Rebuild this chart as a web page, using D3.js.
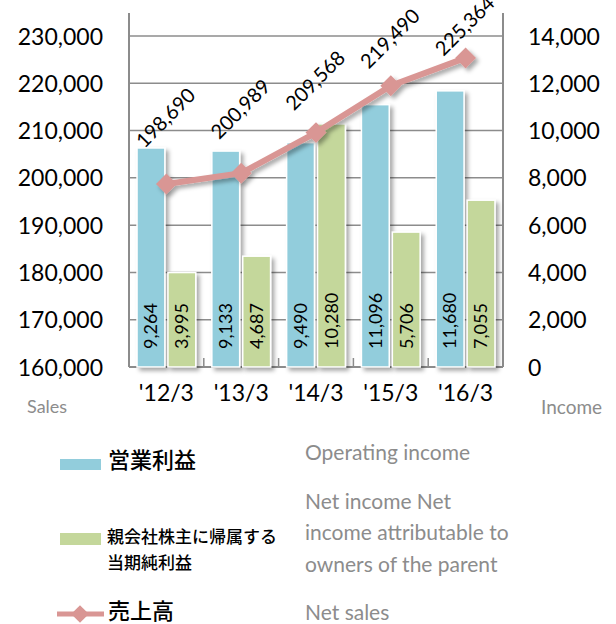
<!DOCTYPE html>
<html><head><meta charset="utf-8">
<script src="https://cdn.jsdelivr.net/npm/d3@7/dist/d3.min.js"></script>
<style>
html,body{margin:0;padding:0;background:#fff;}
svg{display:block;}
</style></head>
<body>
<svg id="c" width="616" height="624"></svg>
<script>
const categories = ["'12/3", "'13/3", "'14/3", "'15/3", "'16/3"];
const operatingIncome = [9264, 9133, 9490, 11096, 11680];
const netIncome = [3995, 4687, 10280, 5706, 7055];
const netSales = [198690, 200989, 209568, 219490, 225364];
const leftTicks = [160000, 170000, 180000, 190000, 200000, 210000, 220000, 230000];
const rightTicks = [0, 2000, 4000, 6000, 8000, 10000, 12000, 14000];
const salesLabelLift = [35, 33, 21, 16, 1];

const svg = d3.select("#c");
const FONT = "Lato, 'Open Sans', sans-serif";
const JFONT = "'Noto Sans CJK JP', sans-serif";
const blue = "#92CDDC", green = "#C4D79B", pink = "#D99694";

const L = 129, R = 503, T = 36, B = 367, TOP = 13;
const yL = d3.scaleLinear().domain([160000, 230000]).range([B, T]);
const yR = d3.scaleLinear().domain([0, 14000]).range([B, T]);
const x = d3.scaleBand().domain(categories).range([L, R]);
const xs = d3.scaleBand().domain(["op", "net"]).range([0, x.bandwidth()]).paddingInner(0.1).paddingOuter(0.26);

const defs = svg.append("defs");
const f = defs.append("filter").attr("id", "sh").attr("x", "-30%").attr("y", "-30%").attr("width", "160%").attr("height", "160%");
f.append("feDropShadow").attr("dx", 3).attr("dy", 3).attr("stdDeviation", 2).attr("flood-color", "#000").attr("flood-opacity", 0.35);

// gridlines
svg.append("g").selectAll("line").data(leftTicks.slice(1)).join("line")
  .attr("x1", L).attr("x2", R).attr("y1", d => yL(d)).attr("y2", d => yL(d))
  .attr("stroke", "#8c8c8c").attr("stroke-width", 1.5);

// axes lines
svg.append("line").attr("x1", L).attr("x2", L).attr("y1", TOP).attr("y2", B).attr("stroke", "#8c8c8c").attr("stroke-width", 2);
svg.append("line").attr("x1", R).attr("x2", R).attr("y1", TOP).attr("y2", B).attr("stroke", "#8c8c8c").attr("stroke-width", 2);
svg.append("line").attr("x1", L).attr("x2", R).attr("y1", B).attr("y2", B).attr("stroke", "#8c8c8c").attr("stroke-width", 2);
svg.append("g").selectAll("line").data(categories.slice(1)).join("line")
  .attr("x1", d => x(d)).attr("x2", d => x(d)).attr("y1", B - 9).attr("y2", B)
  .attr("stroke", "#8c8c8c").attr("stroke-width", 1.5);

// axis tick labels
const gl = svg.append("g").attr("transform", `translate(103,0)`)
  .call(d3.axisLeft(yL).tickValues(leftTicks).tickSize(0).tickPadding(0).tickFormat(d3.format(",")));
gl.select(".domain").remove();
gl.selectAll("text").attr("font-family", FONT).attr("font-size", 23).attr("fill", "#000").attr("dy", "0.35em");

const gr = svg.append("g").attr("transform", `translate(528,0)`)
  .call(d3.axisRight(yR).tickValues(rightTicks).tickSize(0).tickPadding(0).tickFormat(d3.format(",")));
gr.select(".domain").remove();
gr.selectAll("text").attr("font-family", FONT).attr("font-size", 23).attr("fill", "#000").attr("dy", "0.35em");

const gx = svg.append("g").attr("transform", `translate(0,393)`)
  .call(d3.axisBottom(x).tickSize(0).tickPadding(0));
gx.select(".domain").remove();
gx.selectAll("text").attr("font-family", FONT).attr("font-size", 23).attr("fill", "#000").attr("dy", "0.35em");

svg.append("text").attr("x", 27).attr("y", 407).attr("dy", "0.35em").text("Sales")
  .attr("font-family", FONT).attr("font-size", 18).attr("fill", "#8c8c8c");
svg.append("text").attr("x", 541).attr("y", 407).attr("dy", "0.35em").text("Income")
  .attr("font-family", FONT).attr("font-size", 19).attr("fill", "#8c8c8c");

// bars
const series = [
  {key: "op", vals: operatingIncome, color: blue},
  {key: "net", vals: netIncome, color: green}
];
const bars = svg.append("g");
series.forEach(s => {
  const g = bars.append("g");
  g.selectAll("rect").data(categories).join("rect")
    .attr("x", (c) => x(c) + xs(s.key))
    .attr("width", xs.bandwidth())
    .attr("y", (c, i) => yR(s.vals[i]))
    .attr("height", (c, i) => B - yR(s.vals[i]))
    .attr("fill", s.color).attr("stroke", "#fff").attr("stroke-width", 1.5)
    .attr("filter", "url(#sh)");
  g.selectAll("text").data(categories).join("text")
    .attr("transform", (c) => `translate(${x(c) + xs(s.key) + xs.bandwidth() / 2},${B - 18}) rotate(-90)`)
    .attr("dy", "0.35em").attr("text-anchor", "start")
    .attr("font-family", FONT).attr("font-size", 18).attr("fill", "#000")
    .text((c, i) => d3.format(",")(s.vals[i]));
});

// line
const cx = c => x(c) + x.bandwidth() / 2;
const pts = categories.map((c, i) => [cx(c), yL(netSales[i])]);
const lg = svg.append("g").attr("filter", "url(#sh)");
lg.append("path").attr("d", d3.line()(pts)).attr("fill", "none").attr("stroke", pink).attr("stroke-width", 6);
lg.selectAll("path.m").data(pts).join("path").attr("class", "m")
  .attr("d", d3.symbol(d3.symbolDiamond2, 280)())
  .attr("transform", d => `translate(${d[0]},${d[1]})`).attr("fill", pink);

svg.append("g").selectAll("text").data(categories).join("text")
  .attr("transform", (c, i) => `translate(${cx(c) - 22},${yL(netSales[i]) - salesLabelLift[i]}) rotate(-45)`)
  .attr("font-family", FONT).attr("font-size", 20).attr("fill", "#000")
  .text((c, i) => d3.format(",")(netSales[i]));

// legend
const leg = svg.append("g");
leg.append("rect").attr("x", 60).attr("y", 459).attr("width", 41).attr("height", 11).attr("fill", blue);
leg.append("text").attr("x", 108).attr("y", 460).attr("dy", "0.35em").text("営業利益")
  .attr("font-family", JFONT).attr("font-size", 22).attr("font-weight", 500).attr("fill", "#000");
leg.append("rect").attr("x", 60).attr("y", 533).attr("width", 41).attr("height", 12).attr("fill", green);
leg.append("text").attr("x", 107).attr("y", 537).attr("dy", "0.35em").text("親会社株主に帰属する")
  .attr("font-family", JFONT).attr("font-size", 17).attr("font-weight", 500).attr("fill", "#000");
leg.append("text").attr("x", 107).attr("y", 563).attr("dy", "0.35em").text("当期純利益")
  .attr("font-family", JFONT).attr("font-size", 17).attr("font-weight", 500).attr("fill", "#000");
leg.append("line").attr("x1", 57).attr("x2", 104).attr("y1", 614).attr("y2", 614).attr("stroke", pink).attr("stroke-width", 5);
leg.append("path").attr("d", d3.symbol(d3.symbolDiamond2, 200)()).attr("transform", "translate(80,614)").attr("fill", pink);
leg.append("text").attr("x", 108).attr("y", 611).attr("dy", "0.35em").text("売上高")
  .attr("font-family", JFONT).attr("font-size", 22).attr("font-weight", 500).attr("fill", "#000");

const eng = [["Operating income", 453], ["Net income Net", 502], ["income attributable to", 533], ["owners of the parent", 565], ["Net sales", 613]];
leg.selectAll("text.e").data(eng).join("text").attr("class", "e")
  .attr("x", 305).attr("y", d => d[1]).attr("dy", "0.35em").text(d => d[0])
  .attr("font-family", FONT).attr("font-size", 21).attr("fill", "#8c8c8c");
</script>
</body></html>
